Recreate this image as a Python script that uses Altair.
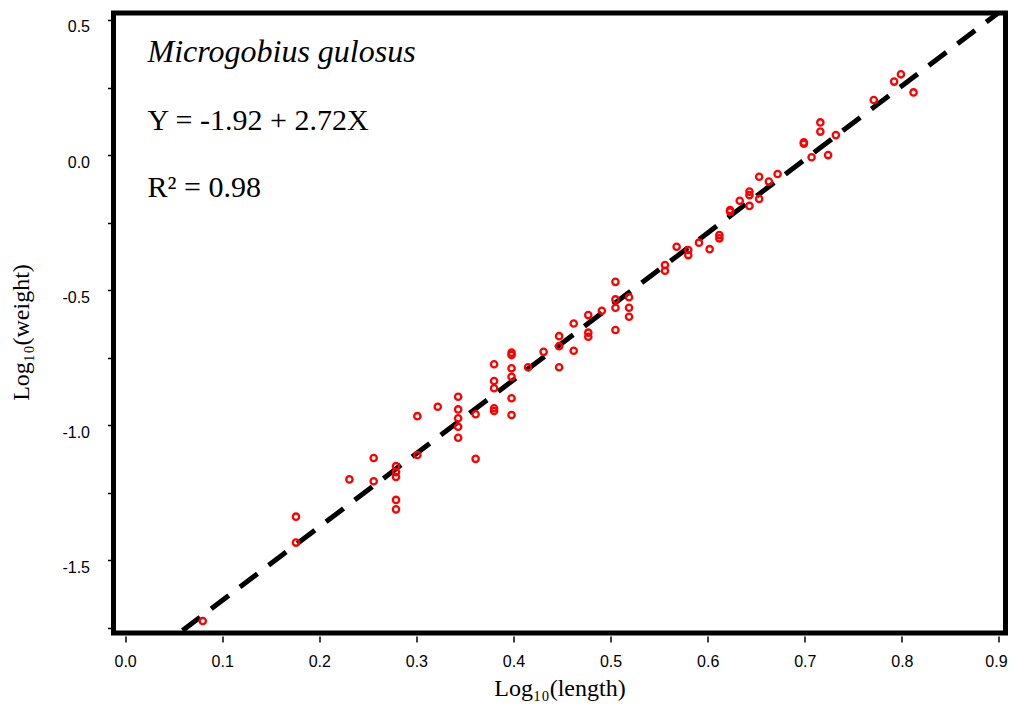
import altair as alt
import pandas as pd

# Log10(length) of each fish
log_length = [
    0.080, 0.176, 0.176, 0.231, 0.256, 0.256, 0.279, 0.279, 0.279, 0.279, 0.279,
    0.301, 0.301, 0.322, 0.343, 0.343, 0.343, 0.343, 0.343, 0.361, 0.361,
    0.380, 0.380, 0.380, 0.380, 0.380, 0.398, 0.398, 0.398, 0.398, 0.398, 0.398,
    0.415, 0.431, 0.447, 0.447, 0.447, 0.462, 0.462, 0.477, 0.477, 0.477,
    0.491, 0.505, 0.505, 0.505, 0.505, 0.519, 0.519, 0.519,
    0.556, 0.556, 0.568, 0.580, 0.580, 0.591, 0.602, 0.612, 0.612,
    0.623, 0.623, 0.633, 0.643, 0.643, 0.643, 0.653, 0.653, 0.663, 0.672,
    0.699, 0.699, 0.707, 0.716, 0.716, 0.724, 0.732, 0.771, 0.792, 0.799, 0.812,
]
# Log10(weight) of each fish
log_weight = [
    -1.724, -1.434, -1.338, -1.200, -1.121, -1.207, -1.151, -1.173, -1.191, -1.276, -1.311,
    -0.966, -1.110, -0.931, -0.894, -0.941, -0.974, -1.005, -1.046, -0.959, -1.124,
    -0.774, -0.836, -0.863, -0.937, -0.947, -0.731, -0.740, -0.789, -0.820, -0.900, -0.962,
    -0.785, -0.728, -0.670, -0.707, -0.785, -0.623, -0.724, -0.592, -0.657, -0.672,
    -0.576, -0.469, -0.534, -0.565, -0.647, -0.526, -0.565, -0.598,
    -0.407, -0.428, -0.339, -0.351, -0.370, -0.324, -0.348, -0.296, -0.308,
    -0.203, -0.209, -0.169, -0.135, -0.148, -0.188, -0.162, -0.080, -0.098, -0.070,
    0.047, 0.042, -0.008, 0.121, 0.087, 0.000, 0.074, 0.204, 0.272, 0.299, 0.232,
]

# regression Y = -1.92 + 2.72X
intercept = -1.92
slope = 2.72
line_x = [0.0, 0.95]

x_ticks = [0.0, 0.1, 0.2, 0.3, 0.4, 0.5, 0.6, 0.7, 0.8, 0.9]
y_ticks = [-1.75, -1.5, -1.25, -1.0, -0.75, -0.5, -0.25, 0.0, 0.25, 0.5]

species = "Microgobius gulosus"
equation = "Y = -1.92 + 2.72X"
r2_text = "R\u00b2 = 0.98"

pts = pd.DataFrame({"x": log_length, "y": log_weight})
fit = pd.DataFrame({"x": line_x, "y": [intercept + slope * v for v in line_x]})

X_DOMAIN = [-0.01195, 0.9067]
Y_DOMAIN = [-1.7685, 0.5259]

xscale = alt.Scale(domain=X_DOMAIN, nice=False, zero=False)
yscale = alt.Scale(domain=Y_DOMAIN, nice=False, zero=False)

xaxis = alt.Axis(
    title="Log\u2081\u2080(length)", values=x_ticks, format=".1f",
    titleFont="Liberation Serif", titleFontSize=24, titleFontWeight="normal",
    titleColor="black", titleBaseline="alphabetic", titleY=59,
    labelFont="Liberation Sans", labelFontSize=16, labelColor="black",
    labelOffset={"condition": {"test": "datum.value > 0.85", "value": -3}, "value": 0},
    labelPadding=11, tickSize=6, tickWidth=1.5, tickColor="black",
    offset=3, domain=False, grid=False,
)
yaxis = alt.Axis(
    title="Log\u2081\u2080(weight)", values=y_ticks,
    labelExpr="abs(datum.value*2 - round(datum.value*2)) < 0.01 ? ((datum.value < -0.001 ? '-' : '') + format(abs(datum.value), '.1f')) : ''",
    titleFont="Liberation Serif", titleFontSize=24, titleFontWeight="normal",
    titleColor="black", titleBaseline="alphabetic", titleAngle=270,
    titleX=-84, titleY=319, titleAlign="center",
    labelFont="Liberation Sans", labelFontSize=16, labelColor="black",
    labelPadding=18, labelOffset=7, tickSize=5, tickWidth=1.5, tickColor="black",
    offset=1, domain=False, grid=False,
)

line = alt.Chart(fit).mark_line(
    color="black", strokeWidth=5, strokeDash=[22, 14], clip=True, strokeCap="butt"
).encode(
    x=alt.X("x:Q", scale=xscale, axis=xaxis),
    y=alt.Y("y:Q", scale=yscale, axis=yaxis),
)

points = alt.Chart(pts).mark_point(
    shape="circle", filled=False, color="#ff0000", size=40, strokeWidth=2.3, opacity=1
).encode(
    x=alt.X("x:Q", scale=xscale),
    y=alt.Y("y:Q", scale=yscale),
)

def label(text, y, size, style="normal"):
    return alt.Chart(pd.DataFrame({"t": [text]})).mark_text(
        align="left", baseline="alphabetic", font="Liberation Serif",
        fontSize=size, fontStyle=style, color="black",
    ).encode(x=alt.value(34), y=alt.value(y), text="t:N")

chart = alt.layer(
    line, points,
    label(species, 49, 32, "italic"),
    label(equation, 117, 30),
    label(r2_text, 184, 30),
).properties(
    width=892, height=620,
    autosize=alt.AutoSizeParams(type="none"),
    padding={"left": 105.5, "top": 5, "right": 3.5, "bottom": 69},
    background="white",
).configure_view(
    stroke="black", strokeWidth=5
)

chart.save("out.html", embed_options={"renderer": "svg", "actions": False})
